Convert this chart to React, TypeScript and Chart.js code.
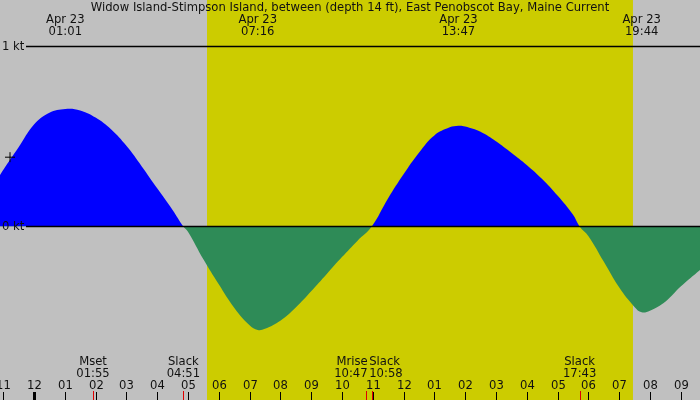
import React, { useRef, useEffect } from 'react';
import { Chart, registerables } from 'chart.js';

Chart.register(...registerables);

const title = 'Widow Island-Stimpson Island, between (depth 14 ft), East Penobscot Bay, Maine Current';

// hours after midnight Apr 23, current speed in knots (+ flood, - ebb)
const hours = [
  -1.104, -1, -0.5, 0, 0.5, 1.017, 1.5, 2, 2.5, 3, 3.5, 4, 4.5, 4.85,
  5, 5.5, 6, 6.5, 7, 7.267, 7.5, 8, 8.5, 9, 9.5, 10, 10.5, 10.967,
  11.5, 12, 12.5, 13, 13.5, 13.783, 14, 14.5, 15, 15.5, 16, 16.5, 17, 17.5, 17.717,
  18, 18.5, 19, 19.5, 19.733, 20, 20.5, 21, 21.627,
];
const knots = [
  0.286, 0.314, 0.44, 0.567, 0.632, 0.653, 0.645, 0.605, 0.54, 0.448, 0.334, 0.212, 0.092, 0,
  -0.029, -0.182, -0.321, -0.451, -0.549, -0.575, -0.568, -0.523, -0.45, -0.36, -0.265, -0.17, -0.08, 0,
  0.157, 0.29, 0.41, 0.506, 0.551, 0.56, 0.556, 0.527, 0.474, 0.41, 0.342, 0.264, 0.172, 0.066, 0,
  -0.053, -0.195, -0.338, -0.447, -0.477, -0.468, -0.418, -0.334, -0.242,
];

const peakDate = 'Apr 23';
const peakTimes = [1.017, 7.267, 13.783, 19.733];
const peakLabels = ['01:01', '07:16', '13:47', '19:44'];

const eventTimes = [1.917, 4.85, 10.783, 10.967, 17.717];
const eventNames = ['Mset', 'Slack', 'Mrise', 'Slack', 'Slack'];
const eventLabels = ['01:55', '04:51', '10:47', '10:58', '17:43'];

const hourTicks = [-1, 0, 1, 2, 3, 4, 5, 6, 7, 8, 9, 10, 11, 12, 13, 14, 15, 16, 17, 18, 19, 20, 21];
const hourLabels = ['11', '12', '01', '02', '03', '04', '05', '06', '07', '08', '09', '10', '11', '12', '01', '02', '03', '04', '05', '06', '07', '08', '09'];

const daylight = [5.618, 19.45];
const levelValues = [1, 0];
const levelLabels = ['1 kt', '0 kt'];
const crossLevel = 0.385;

const FONT = '11.6px "DejaVu Sans"';
const INK = '#111';

const tidePlugin = {
  id: 'tide',
  beforeDraw(chart: any) {
    const { ctx, width, height } = chart;
    const x = chart.scales.x;
    ctx.save();
    ctx.fillStyle = '#c0c0c0';
    ctx.fillRect(0, 0, width, height);
    const x0 = x.getPixelForValue(daylight[0]);
    const x1 = x.getPixelForValue(daylight[1]);
    ctx.fillStyle = '#cccc00';
    ctx.fillRect(x0, 0, x1 - x0, height);
    ctx.restore();
  },
  afterDraw(chart: any) {
    const { ctx, width, height } = chart;
    const x = chart.scales.x;
    const y = chart.scales.y;
    ctx.save();
    ctx.font = FONT;
    ctx.fillStyle = INK;
    ctx.strokeStyle = '#000';

    // level lines
    ctx.lineWidth = 1.3;
    levelValues.forEach((v, i) => {
      const py = y.getPixelForValue(v);
      ctx.beginPath();
      ctx.moveTo(26, py);
      ctx.lineTo(width, py);
      ctx.stroke();
      ctx.textAlign = 'left';
      ctx.textBaseline = 'middle';
      ctx.fillText(levelLabels[i], 2, py);
    });

    // the little cross on the left edge
    const cy = y.getPixelForValue(crossLevel);
    ctx.lineWidth = 1;
    ctx.beginPath();
    ctx.moveTo(5, cy);
    ctx.lineTo(15, cy);
    ctx.moveTo(10, cy - 5);
    ctx.lineTo(10, cy + 5);
    ctx.stroke();

    // title
    ctx.textAlign = 'center';
    ctx.textBaseline = 'middle';
    ctx.fillText(title, width / 2, 8);

    // peak labels
    peakTimes.forEach((t, i) => {
      const px = x.getPixelForValue(t);
      ctx.fillText(peakDate, px, 20);
      ctx.fillText(peakLabels[i], px, 31.5);
    });

    // hour ticks
    hourTicks.forEach((h, i) => {
      const px = Math.round(x.getPixelForValue(h)) + 0.5;
      ctx.fillText(hourLabels[i], px, 385.5);
      ctx.lineWidth = h === 0 ? 3 : 1;
      ctx.beginPath();
      ctx.moveTo(px, 392);
      ctx.lineTo(px, height);
      ctx.stroke();
    });

    // events: red ticks and labels, crowded pairs pushed apart
    eventTimes.forEach((t, i) => {
      const px = x.getPixelForValue(t);
      ctx.strokeStyle = '#e00000';
      ctx.lineWidth = 1;
      ctx.beginPath();
      ctx.moveTo(Math.round(px) + 0.5, 391);
      ctx.lineTo(Math.round(px) + 0.5, height);
      ctx.stroke();
      const prev = i > 0 ? x.getPixelForValue(eventTimes[i - 1]) : -999;
      const next = i < eventTimes.length - 1 ? x.getPixelForValue(eventTimes[i + 1]) : 9999;
      let lx = px;
      if (next - px < 40) {
        ctx.textAlign = 'right';
        lx = px + 1.5;
      } else if (px - prev < 40) {
        ctx.textAlign = 'left';
        lx = px - 2.5;
      } else {
        ctx.textAlign = 'center';
      }
      ctx.fillText(eventNames[i], lx, 361.5);
      ctx.fillText(eventLabels[i], lx, 374);
    });
    ctx.restore();
  },
};

export default function App() {
  const canvasRef = useRef<HTMLCanvasElement>(null);

  useEffect(() => {
    document.body.style.margin = '0';
    const chart = new Chart(canvasRef.current as HTMLCanvasElement, {
      type: 'line',
      data: {
        datasets: [
          {
            data: hours.map((h, i) => ({ x: h, y: knots[i] })),
            borderColor: 'rgba(0,0,0,0)',
            borderWidth: 0,
            pointRadius: 0,
            tension: 0.4,
            fill: { target: 'origin', above: '#0000ff', below: '#2e8b57' },
          },
        ],
      },
      options: {
        animation: false,
        responsive: false,
        maintainAspectRatio: false,
        layout: { padding: 0 },
        plugins: { legend: { display: false }, tooltip: { enabled: false } },
        scales: {
          x: { type: 'linear', min: -1.104, max: 21.627, display: false },
          y: { type: 'linear', min: -0.9639, max: 1.2583, display: false },
        },
      },
      plugins: [tidePlugin],
    });
    return () => chart.destroy();
  }, []);

  return (
    <div style={{ width: 700, height: 400 }}>
      <canvas ref={canvasRef} width={700} height={400} />
    </div>
  );
}
